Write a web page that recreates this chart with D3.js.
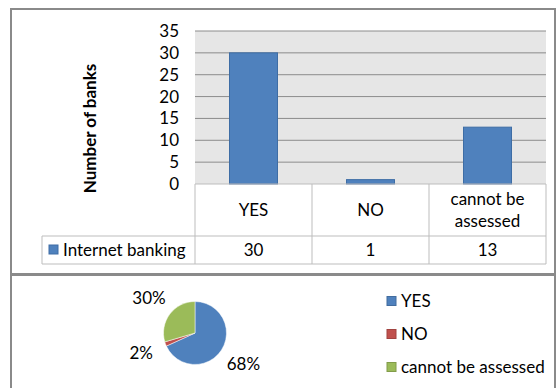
<!DOCTYPE html>
<html>
<head>
<meta charset="utf-8">
<script src="https://cdn.jsdelivr.net/npm/d3@7"></script>
<style>
  html, body { margin: 0; padding: 0; background: #fff; }
  svg { display: block; font-family: Lato, "Open Sans", sans-serif; }
</style>
</head>
<body>
<svg id="chart" width="556" height="388"></svg>
<script>
// Internet banking survey: number of banks per answer
const categories = ["YES", "NO", "cannot be assessed"];
const categoryLines = [["YES"], ["NO"], ["cannot be", "assessed"]];
const seriesName = "Internet banking";
const values = [30, 1, 13];
const yTicks = [0, 5, 10, 15, 20, 25, 30, 35];
const pieColors = ["#4f81bd", "#c0504d", "#9bbb59"];

const svg = d3.select("#chart");
const FONT = 17;

// Outer frames for the two chart blocks
svg.append("rect").attr("x", 11).attr("y", 9).attr("width", 544).attr("height", 265)
  .attr("fill", "#fff").attr("stroke", "#8a8a8a").attr("stroke-width", 2);
svg.append("rect").attr("x", 11).attr("y", 275).attr("width", 544).attr("height", 120)
  .attr("fill", "#fff").attr("stroke", "#8a8a8a").attr("stroke-width", 2);

// ---- Column chart with data table ----
const plot = { left: 195, right: 546, top: 31, bottom: 184 };
const x = d3.scaleBand().domain(categories).range([plot.left, plot.right]).paddingInner(0).paddingOuter(0);
const y = d3.scaleLinear().domain([0, 35]).range([plot.bottom, plot.top]);

svg.append("rect").attr("x", plot.left).attr("y", plot.top)
  .attr("width", plot.right - plot.left).attr("height", plot.bottom - plot.top)
  .attr("fill", "#e6e6e6");

svg.append("g").selectAll("line").data(yTicks.filter(t => t > 0)).join("line")
  .attr("x1", plot.left).attr("x2", plot.right)
  .attr("y1", d => y(d)).attr("y2", d => y(d))
  .attr("stroke", "#8c8c8c").attr("stroke-width", 1);

const yAxis = d3.axisLeft(y).tickValues(yTicks).tickSize(0).tickPadding(16);
const gy = svg.append("g").attr("transform", `translate(${plot.left},0)`).call(yAxis);
gy.select(".domain").remove();
gy.selectAll("text").attr("font-size", FONT).attr("fill", "#000").attr("font-family", "Lato, sans-serif");

const barW = 48;
svg.append("g").selectAll("rect").data(values).join("rect")
  .attr("x", (d, i) => x(categories[i]) + x.bandwidth() / 2 - barW / 2)
  .attr("y", d => y(d))
  .attr("width", barW)
  .attr("height", d => y(0) - y(d))
  .attr("fill", "#4f81bd").attr("stroke", "#3e6da5").attr("stroke-width", 1);

// Axis title
svg.append("text")
  .attr("transform", `translate(96,${(plot.top + plot.bottom) / 2 + 21}) rotate(-90)`)
  .attr("text-anchor", "middle").attr("font-size", FONT).attr("font-weight", "bold")
  .text("Number of banks");

// Data table below the plot
const tableTop = plot.bottom, rowMid = 236, tableBottom = 264, tableLeft = 42;
const grid = svg.append("g").attr("stroke", "#bdbdbd").attr("stroke-width", 1).attr("fill", "none");
grid.append("line").attr("x1", plot.left).attr("x2", plot.right).attr("y1", tableTop).attr("y2", tableTop);
grid.append("line").attr("x1", tableLeft).attr("x2", plot.right).attr("y1", rowMid).attr("y2", rowMid);
grid.append("line").attr("x1", tableLeft).attr("x2", plot.right).attr("y1", tableBottom).attr("y2", tableBottom);
grid.append("line").attr("x1", tableLeft).attr("x2", tableLeft).attr("y1", rowMid).attr("y2", tableBottom);
const colEdges = categories.map(c => x(c)).concat([plot.right]);
grid.selectAll(".v").data(colEdges).join("line").attr("class", "v")
  .attr("x1", d => d).attr("x2", d => d).attr("y1", tableTop).attr("y2", tableBottom);

const catText = svg.append("g").attr("font-size", FONT).attr("text-anchor", "middle");
categoryLines.forEach((lines, i) => {
  const cx = x(categories[i]) + x.bandwidth() / 2;
  const mid = (tableTop + rowMid) / 2;
  lines.forEach((ln, j) => {
    catText.append("text").attr("x", cx)
      .attr("y", mid + (j - (lines.length - 1) / 2) * 22)
      .attr("dy", "0.35em").text(ln);
  });
});
svg.append("g").attr("font-size", FONT).attr("text-anchor", "middle")
  .selectAll("text").data(values).join("text")
  .attr("x", (d, i) => x(categories[i]) + x.bandwidth() / 2)
  .attr("y", (rowMid + tableBottom) / 2).attr("dy", "0.35em")
  .text(d => d);

svg.append("rect").attr("x", 49).attr("y", 245).attr("width", 9).attr("height", 9)
  .attr("fill", "#4f81bd").attr("stroke", "#3e6da5");
svg.append("text").attr("x", 63).attr("y", (rowMid + tableBottom) / 2).attr("dy", "0.35em")
  .attr("font-size", FONT).text(seriesName);

// ---- Pie chart of shares ----
const total = d3.sum(values);
const pieCenter = [195, 333], radius = 31.5;
const pie = d3.pie().sort(null).value(d => d)(values);
const arc = d3.arc().innerRadius(0).outerRadius(radius);
const labelArc = d3.arc().innerRadius(radius + 26).outerRadius(radius + 26);
const gp = svg.append("g").attr("transform", `translate(${pieCenter[0]},${pieCenter[1]})`);
gp.selectAll("path").data(pie).join("path")
  .attr("d", arc).attr("fill", (d, i) => pieColors[i])
  .attr("stroke", "#fff").attr("stroke-width", 0.5);
gp.selectAll("text").data(pie).join("text")
  .attr("transform", d => `translate(${labelArc.centroid(d)})`)
  .attr("text-anchor", "middle").attr("dy", "0.35em").attr("font-size", FONT)
  .text(d => Math.round(d.data / total * 100) + "%");

const legend = svg.append("g").attr("font-size", FONT);
categories.forEach((c, i) => {
  const cy = 301 + i * 33;
  legend.append("rect").attr("x", 387).attr("y", cy - 4.5).attr("width", 9).attr("height", 9)
    .attr("fill", pieColors[i]).attr("stroke", d3.color(pieColors[i]).darker(0.5));
  legend.append("text").attr("x", 401).attr("y", cy).attr("dy", "0.35em").text(c);
});
</script>
</body>
</html>
